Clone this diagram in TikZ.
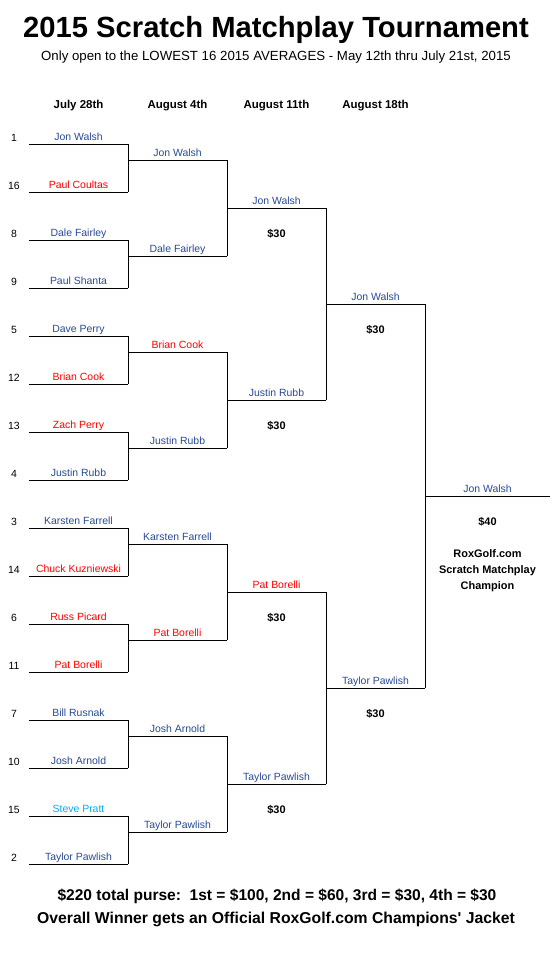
\documentclass[tikz,border=0pt]{standalone}
\usepackage{fontspec}
\setmainfont{Liberation Sans}
\usetikzlibrary{calc}

\definecolor{nameblue}{RGB}{40,72,150}
\definecolor{namered}{RGB}{255,0,0}
\definecolor{namecyan}{RGB}{0,172,240}

\begin{document}
\begin{tikzpicture}[x=1bp,y=-1bp,line width=1bp,
  player/.style={font=\fontsize{10.5}{12}\selectfont,inner sep=0pt,anchor=base},
  seedno/.style={font=\fontsize{10.5}{12}\selectfont,inner sep=0pt,anchor=base},
  datehead/.style={font=\bfseries\fontsize{11.5}{13}\selectfont,inner sep=0pt,anchor=base},
  prize/.style={font=\bfseries\fontsize{11}{13}\selectfont,inner sep=0pt,anchor=base}]

\useasboundingbox (0,0) rectangle (558,980);

% Parameters
\def\dy{48}

% Title
\node[font=\bfseries\fontsize{29.3}{32}\selectfont,inner sep=0pt,anchor=base] (title) at (276,37) {2015 Scratch Matchplay Tournament};
\node[font=\fontsize{13.3}{15}\selectfont,inner sep=0pt,anchor=base] (subtitle) at (276,60) {Only open to the LOWEST 16 2015 AVERAGES - May 12th thru July 21st, 2015};

% Dates
\node[datehead] (d1) at (78.5,108.5) {July 28th};
\node[datehead] (d2) at (177.5,108.5) {August 4th};
\node[datehead] (d3) at (276.5,108.5) {August 11th};
\node[datehead] (d4) at (375.5,108.5) {August 18th};

% Round 1
\foreach \s/\p/\c [count=\i from 0] in {1/Jon Walsh/nameblue,16/Paul Coultas/namered,
  8/Dale Fairley/nameblue,9/Paul Shanta/nameblue,5/Dave Perry/nameblue,12/Brian Cook/namered,
  13/Zach Perry/namered,4/Justin Rubb/nameblue,3/Karsten Farrell/nameblue,
  14/Chuck Kuzniewski/namered,6/Russ Picard/namered,11/Pat Borelli/namered,
  7/Bill Rusnak/nameblue,10/Josh Arnold/nameblue,15/Steve Pratt/namecyan,2/Taylor Pawlish/nameblue}
{
\pgfmathsetmacro\y{144+\dy*\i}
\coordinate (r1a\i) at (29,\y);
\coordinate (r1b\i) at (128,\y);
\draw (r1a\i) -- (r1b\i);
\node[seedno] (seed\i) at (14,\y-3) {\s};
\node[player,text=\c] (r1n\i) at (78.5,\y-4) {\p};
}
\foreach \k in {0,...,7}
{
\pgfmathtruncatemacro\a{2*\k}
\pgfmathtruncatemacro\b{2*\k+1}
\draw (r1b\a) -- (r1b\b);
}

% Round 2
\foreach \p/\c [count=\i from 0] in {Jon Walsh/nameblue,Dale Fairley/nameblue,
  Brian Cook/namered,Justin Rubb/nameblue,Karsten Farrell/nameblue,Pat Borelli/namered,
  Josh Arnold/nameblue,Taylor Pawlish/nameblue}
{
\pgfmathsetmacro\y{160+2*\dy*\i}
\coordinate (r2a\i) at (128,\y);
\coordinate (r2b\i) at (227,\y);
\draw (r2a\i) -- (r2b\i);
\node[player,text=\c] (r2n\i) at (177.5,\y-4) {\p};
}
\foreach \k in {0,...,3}
{
\pgfmathtruncatemacro\a{2*\k}
\pgfmathtruncatemacro\b{2*\k+1}
\draw (r2b\a) -- (r2b\b);
}

% Round 3
\foreach \p/\c [count=\i from 0] in {Jon Walsh/nameblue,Justin Rubb/nameblue,
  Pat Borelli/namered,Taylor Pawlish/nameblue}
{
\pgfmathsetmacro\y{208+4*\dy*\i}
\coordinate (r3a\i) at (227,\y);
\coordinate (r3b\i) at (326,\y);
\draw (r3a\i) -- (r3b\i);
\node[player,text=\c] (r3n\i) at (276.5,\y-4) {\p};
\node[prize] (r3p\i) at (276.5,\y+29) {\$30};
}
\draw (r3b0) -- (r3b1);
\draw (r3b2) -- (r3b3);

% Round 4
\foreach \p/\c [count=\i from 0] in {Jon Walsh/nameblue,Taylor Pawlish/nameblue}
{
\pgfmathsetmacro\y{304+8*\dy*\i}
\coordinate (r4a\i) at (326,\y);
\coordinate (r4b\i) at (425,\y);
\draw (r4a\i) -- (r4b\i);
\node[player,text=\c] (r4n\i) at (375.5,\y-4) {\p};
\node[prize] (r4p\i) at (375.5,\y+29) {\$30};
}
\draw (r4b0) -- (r4b1);

% Champion
\coordinate (r5a) at (425,496);
\coordinate (r5b) at (550,496);
\draw (r5a) -- (r5b);
\node[player,text=nameblue] (champ) at (487.5,492) {Jon Walsh};
\node[prize] (r5p) at (487.5,525) {\$40};
\node[prize] (champ1) at (487.5,557) {RoxGolf.com};
\node[prize] (champ2) at (487.5,573) {Scratch Matchplay};
\node[prize] (champ3) at (487.5,589) {Champion};

% Purse
\node[font=\bfseries\fontsize{15.6}{18}\selectfont,inner sep=0pt,anchor=base] (purse) at (277,900) {\$220 total purse:\ \ 1st = \$100, 2nd = \$60, 3rd = \$30, 4th = \$30};
\node[font=\bfseries\fontsize{15.8}{18}\selectfont,inner sep=0pt,anchor=base] (jacket) at (276,923) {Overall Winner gets an Official RoxGolf.com Champions\textquotesingle{} Jacket};

\end{tikzpicture}
\end{document}
